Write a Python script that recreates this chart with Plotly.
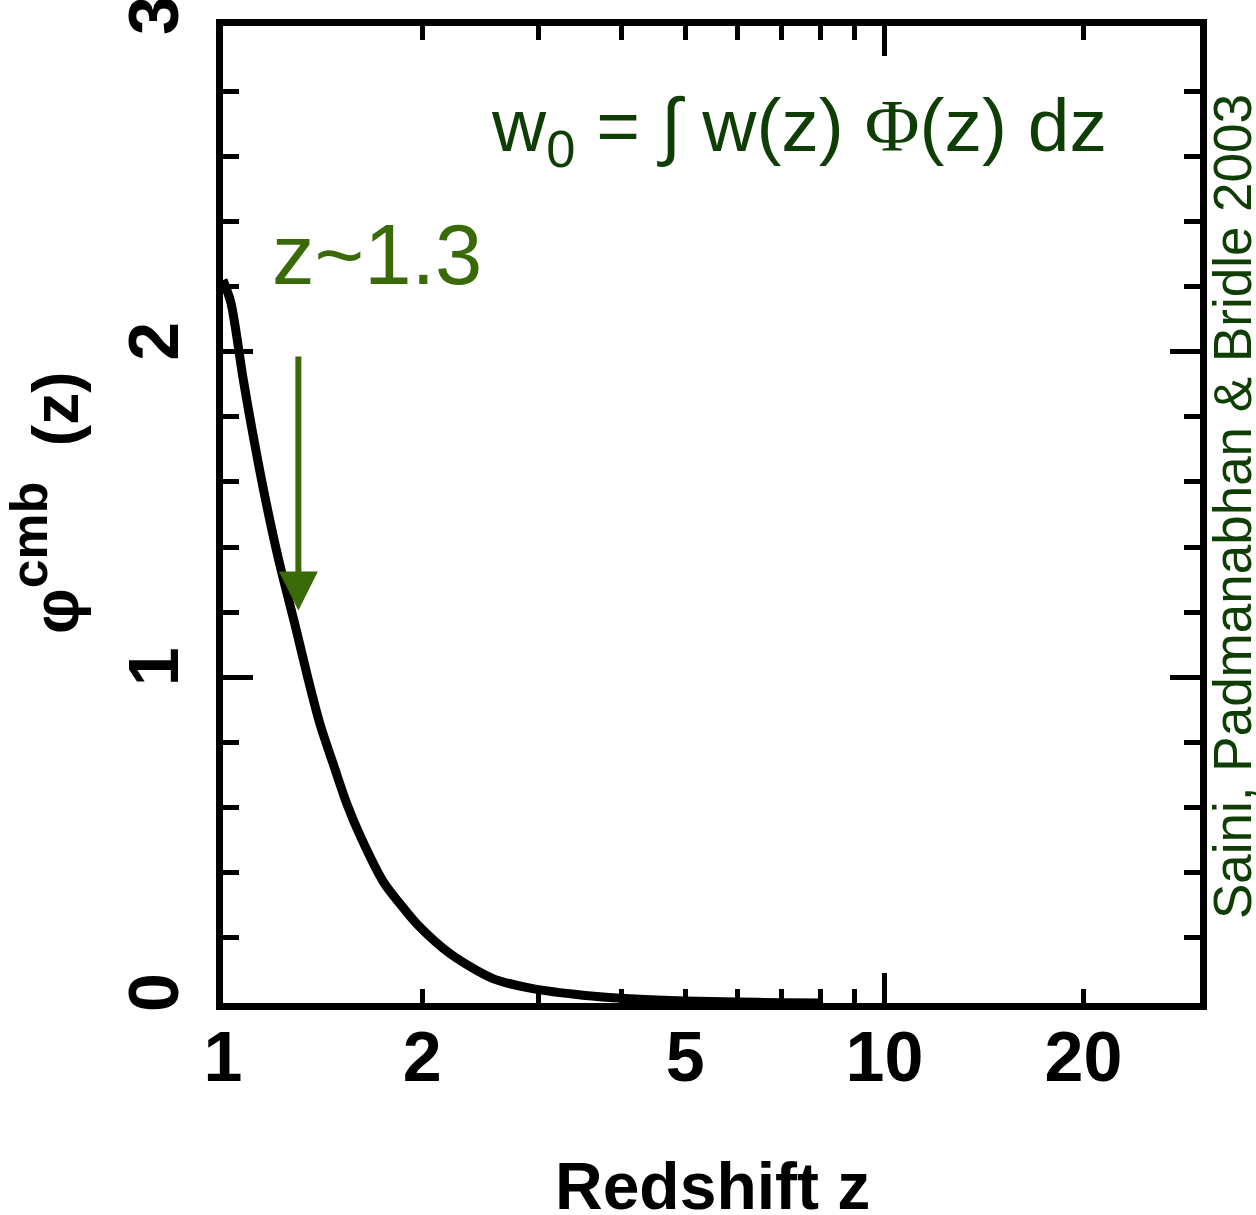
import math
import plotly.graph_objects as go

# ---- data ----
redshift = [1.0, 1.028, 1.072, 1.102, 1.153, 1.214, 1.289, 1.343, 1.40, 1.47, 1.54,
            1.615, 1.75, 1.86, 1.97, 2.21, 2.56, 2.94, 3.5, 4.2, 5.0, 6.0, 7.0, 8.0]
phi_cmb = [2.22, 2.15, 1.92, 1.78, 1.57, 1.36, 1.15, 1.00, 0.86, 0.73, 0.61,
           0.51, 0.37, 0.30, 0.24, 0.15, 0.075, 0.044, 0.024, 0.012, 0.006, 0.003, 0.001, 0.0]

x_label_vals = [1, 2, 5, 10, 20]
x_label_text = ["1", "2", "5", "10", "20"]
x_minor_vals = [3, 4, 6, 7, 8, 9]
x_long_vals = [10]
y_tick_vals = [0, 1, 2, 3]
y_tick_text = ["0", "1", "2", "3"]

x_range = [1, 30]
y_range = [0, 3]
arrow_z = 1.3
arrow_from_phi = 1.99
arrow_to_phi = 1.205

DARK_GREEN = "#0f3e05"
LIGHT_GREEN = "#3a6a08"
FONT = "Liberation Sans, Arial, sans-serif"

# plot-area geometry in page pixels (body margin removed below)
W, H = 1256, 1215
PL, PR, PT, PB = 223, 1200, 26, 1003
PW, PH = PR - PL, PB - PT


def px(xp):
    return (xp - PL) / PW


def py(yp):
    return (PB - yp) / PH


fig = go.Figure()
fig.add_trace(go.Scatter(
    x=redshift, y=phi_cmb, mode="lines",
    line=dict(color="black", width=9, shape="spline", smoothing=0.8),
    showlegend=False, hoverinfo="skip",
))
# invisible copy on the overlay axis (carries the long decade tick)
fig.add_trace(go.Scatter(
    x=redshift, y=phi_cmb, mode="lines", xaxis="x2",
    line=dict(color="rgba(0,0,0,0)", width=0),
    showlegend=False, hoverinfo="skip",
))

log_range = [math.log10(x_range[0]), math.log10(x_range[1])]

fig.update_layout(
    width=W, height=H,
    margin=dict(l=PL, r=W - PR, t=PT, b=H - PB, autoexpand=False),
    paper_bgcolor="white", plot_bgcolor="white",
    showlegend=False,
    xaxis=dict(
        type="log", range=log_range, automargin=False,
        tickmode="array", tickvals=x_label_vals, ticktext=x_label_text,
        ticks="inside", ticklen=14, tickwidth=5, tickcolor="black",
        minor=dict(tickvals=x_minor_vals, ticks="inside", ticklen=14,
                   tickwidth=5, tickcolor="black", showgrid=False),
        showline=True, linewidth=7, linecolor="black", mirror="ticks",
        showgrid=False, zeroline=False,
        tickfont=dict(family=FONT, size=70, color="black", weight="bold"),
        ticklabelstandoff=-13, ticklabeloverflow="allow",
    ),
    xaxis2=dict(
        type="log", range=log_range, overlaying="x", anchor="y", side="bottom",
        automargin=False,
        tickmode="array", tickvals=x_long_vals,
        ticks="inside", ticklen=30, tickwidth=5, tickcolor="black",
        showticklabels=False, showline=False, mirror="ticks",
        showgrid=False, zeroline=False,
    ),
    yaxis=dict(
        range=y_range, automargin=False,
        tickmode="array", tickvals=y_tick_vals, ticktext=y_tick_text,
        ticks="inside", ticklen=30, tickwidth=5, tickcolor="black",
        minor=dict(dtick=0.2, ticks="inside", ticklen=16, tickwidth=5,
                   tickcolor="black", showgrid=False),
        showline=True, linewidth=7, linecolor="black", mirror="ticks",
        showgrid=False, zeroline=False, tickangle=-90,
        tickfont=dict(family=FONT, size=70, color="black", weight="bold"),
        ticklabelstandoff=10, ticklabeloverflow="allow",
    ),
)

annotations = [
    # y-axis title
    dict(text="<b>φ<span style='font-size:74px'><sup>cmb</sup></span>\u00a0\u00a0(z)</b>",
         xref="paper", yref="paper",
         x=px(46), y=py(503), xanchor="center", yanchor="middle", textangle=-90,
         showarrow=False, font=dict(family=FONT, size=64, color="black")),
    # x-axis title
    dict(text="<b>Redshift z</b>", xref="paper", yref="paper",
         x=px(712), y=0, xanchor="center", yanchor="top", yshift=-144,
         showarrow=False, font=dict(family=FONT, size=66, color="black")),
    # formula
    dict(text="w<sub>0</sub> = ∫ w(z) <span style='font-family:Liberation Serif'>Φ</span>(z) dz",
         xref="paper", yref="paper", x=px(489), y=py(131),
         xanchor="left", yanchor="middle", showarrow=False,
         font=dict(family=FONT, size=75, color=DARK_GREEN)),
    # z~1.3 label
    dict(text="z~1.3", xref="paper", yref="paper",
         x=px(270), y=py(255),
         xanchor="left", yanchor="middle", showarrow=False,
         font=dict(family=FONT, size=85, color=LIGHT_GREEN)),
    # arrow
    dict(text="", xref="x", yref="y", axref="x", ayref="y",
         x=math.log10(arrow_z), y=arrow_to_phi,
         ax=math.log10(arrow_z), ay=arrow_from_phi,
         showarrow=True, arrowhead=2, arrowsize=1.3, arrowwidth=6,
         arrowcolor=LIGHT_GREEN, standoff=0),
    # citation
    dict(text="Saini, Padmanabhan &amp; Bridle 2003", xref="paper", yref="paper",
         x=px(1232), y=py(507),
         xanchor="center", yanchor="middle", textangle=-90, showarrow=False,
         font=dict(family=FONT, size=53, color=DARK_GREEN)),
]
fig.update_layout(annotations=annotations)

# remove the default 8px page margin so the figure fills the window exactly
fig.write_html(
    "out.html",
    config={"displayModeBar": False},
    post_script="document.body.style.margin='0';document.body.style.overflow='hidden';",
)
